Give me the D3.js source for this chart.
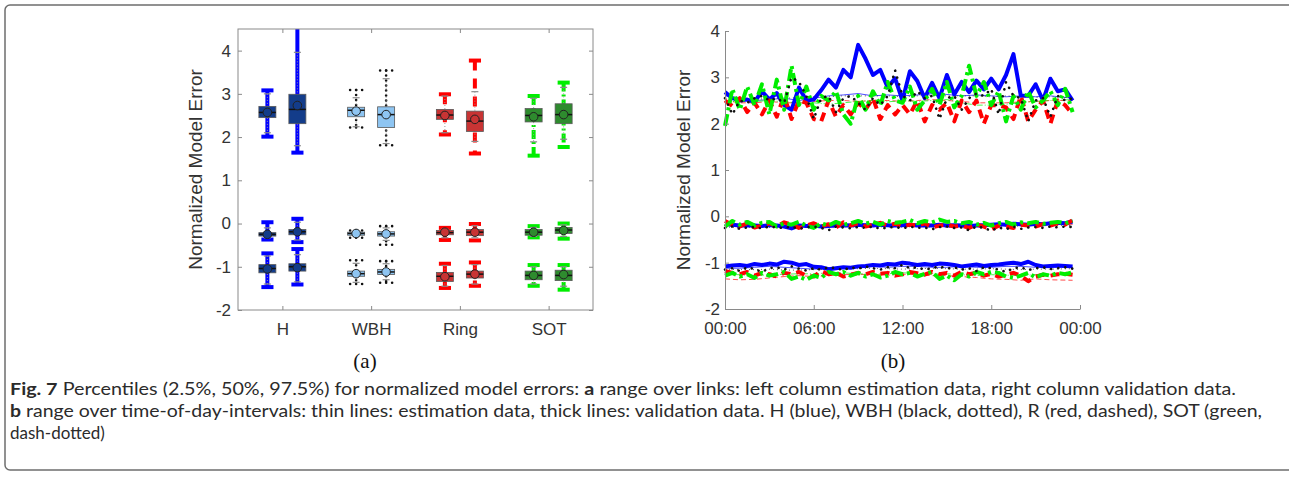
<!DOCTYPE html>
<html>
<head>
<meta charset="utf-8">
<title>Normalized model errors</title>
<script src="https://cdn.jsdelivr.net/npm/d3@7"></script>
<style>
  body { margin: 0; background: #fff; }
  svg { font-family: 'Liberation Sans', Arial, sans-serif; }
</style>
</head>
<body>
<svg width="1289" height="478" id="mainsvg"></svg>
<script>
// ---------- data (a): percentile boxes over links ----------
const methods = ['H', 'WBH', 'Ring', 'SOT'];
// each row: [min, whiskerLow, q1, median, q3, whiskerHigh, max, mean]
// rows: est 97.5, val 97.5, est 50, val 50, est 2.5, val 2.5
const boxH = [
  [2.01, 2.10, 2.45, 2.57, 2.71, 3.00, 3.08, 2.57],
  [1.64, 1.80, 2.31, 2.64, 2.99, 3.96, 4.90, 2.73],
  [-0.37, -0.33, -0.29, -0.25, -0.21, -0.10, 0.03, -0.25],
  [-0.43, -0.38, -0.26, -0.19, -0.14, 0.03, 0.11, -0.19],
  [-1.47, -1.40, -1.14, -1.04, -0.95, -0.75, -0.69, -1.05],
  [-1.41, -1.35, -1.10, -1.00, -0.93, -0.72, -0.59, -1.02]
];
const boxWBH = [
  [2.22, 2.24, 2.47, 2.62, 2.69, 2.91, 3.09, 2.60],
  [1.81, 1.85, 2.22, 2.52, 2.70, 3.35, 3.54, 2.52],
  [-0.33, -0.30, -0.27, -0.23, -0.20, -0.18, -0.16, -0.23],
  [-0.49, -0.39, -0.29, -0.24, -0.19, -0.10, -0.06, -0.24],
  [-1.40, -1.36, -1.22, -1.16, -1.10, -0.92, -0.85, -1.16],
  [-1.37, -1.30, -1.18, -1.12, -1.06, -0.93, -0.87, -1.12]
];
const boxRing = [
  [2.06, 2.10, 2.41, 2.51, 2.64, 2.95, 2.99, 2.50],
  [1.62, 1.90, 2.13, 2.37, 2.60, 3.05, 3.77, 2.41],
  [-0.38, -0.33, -0.26, -0.21, -0.16, -0.13, -0.10, -0.20],
  [-0.39, -0.33, -0.28, -0.20, -0.14, -0.05, -0.01, -0.20],
  [-1.49, -1.45, -1.34, -1.22, -1.13, -0.97, -0.93, -1.23],
  [-1.44, -1.40, -1.26, -1.17, -1.10, -0.95, -0.90, -1.17]
];
const boxSOT = [
  [1.57, 1.89, 2.35, 2.50, 2.66, 2.90, 2.95, 2.47],
  [1.77, 1.95, 2.31, 2.52, 2.77, 3.15, 3.26, 2.52],
  [-0.32, -0.30, -0.27, -0.20, -0.14, -0.09, -0.06, -0.20],
  [-0.35, -0.30, -0.23, -0.15, -0.09, -0.03, 0.00, -0.16],
  [-1.44, -1.40, -1.30, -1.20, -1.10, -1.00, -0.96, -1.20],
  [-1.53, -1.45, -1.32, -1.20, -1.08, -1.00, -0.96, -1.18]
];
const yTicksA = [-2, -1, 0, 1, 2, 3, 4];

// ---------- data (b): percentiles over time of day ----------
const halfHours = d3.range(0, 24, 0.5);              // validation (thick) time grid
const hoursThin = [0, 1, 2, 3, 4, 5, 6, 7, 8, 9, 10, 11, 12, 13, 14, 15, 16, 17, 18, 19, 20, 21, 22, 23.5];
const timeTicks = [0, 6, 12, 18, 24];
const timeLabels = ['00:00', '06:00', '12:00', '18:00', '00:00'];
const yTicksB = [-2, -1, 0, 1, 2, 3, 4];

// thick lines (validation)
const hTop = [2.68,2.55,2.5,2.52,2.47,2.7,2.52,2.66,2.4,2.3,2.78,2.5,2.52,2.72,2.95,2.78,3.16,3.0,3.7,3.4,3.05,3.16,2.78,2.98,2.5,3.13,2.92,2.55,2.88,2.55,3.05,2.63,2.9,2.68,2.93,2.74,2.97,2.74,3.05,3.5,2.6,2.6,2.85,2.5,2.97,2.7,2.74,2.5];
const wbhTop = [2.55,2.2,2.5,2.45,2.55,2.6,2.5,2.55,2.45,3.0,2.9,2.6,2.1,2.55,2.6,2.25,2.55,2.6,2.45,2.3,2.55,2.4,2.6,3.15,2.6,2.5,2.7,2.55,2.6,2.1,2.55,2.6,2.3,2.55,2.65,2.6,2.75,2.2,2.9,2.6,2.55,2.05,2.5,2.55,2.15,2.6,2.5,2.55];
const rTop = [2.5,2.38,2.55,2.25,2.45,2.2,2.5,2.15,2.6,2.1,2.5,2.45,2.1,2.05,2.5,2.15,2.4,2.2,2.45,2.3,2.55,2.1,2.4,2.2,2.4,2.2,2.5,2.05,2.4,2.3,2.45,2.05,2.5,2.25,2.5,2.0,2.4,2.4,2.35,2.1,2.6,2.05,2.3,2.5,2.0,2.5,2.4,2.2];
const sotTop = [1.95,2.75,2.3,2.8,2.4,2.85,2.2,2.95,2.3,3.25,2.4,2.8,2.3,2.6,2.5,2.7,2.2,2.0,2.6,2.3,2.7,2.4,2.9,2.5,2.45,2.8,2.3,2.5,2.75,2.4,2.9,2.35,2.6,3.25,2.6,2.9,2.4,2.7,2.05,2.6,2.3,2.7,2.35,2.5,2.7,2.4,2.75,2.25];

const hMid = [-0.16,-0.18,-0.2,-0.19,-0.2,-0.21,-0.19,-0.2,-0.22,-0.26,-0.2,-0.21,-0.2,-0.22,-0.21,-0.2,-0.19,-0.2,-0.18,-0.19,-0.2,-0.18,-0.19,-0.2,-0.19,-0.18,-0.2,-0.19,-0.2,-0.18,-0.2,-0.19,-0.2,-0.21,-0.2,-0.19,-0.18,-0.17,-0.18,-0.16,-0.17,-0.18,-0.16,-0.17,-0.15,-0.14,-0.15,-0.11];
const wbhMid = [-0.25,-0.22,-0.27,-0.24,-0.23,-0.26,-0.22,-0.24,-0.25,-0.22,-0.27,-0.24,-0.22,-0.25,-0.3,-0.22,-0.24,-0.26,-0.23,-0.25,-0.22,-0.27,-0.24,-0.23,-0.26,-0.22,-0.25,-0.24,-0.28,-0.23,-0.22,-0.25,-0.24,-0.3,-0.22,-0.25,-0.31,-0.24,-0.28,-0.22,-0.27,-0.24,-0.23,-0.25,-0.22,-0.24,-0.22,-0.23];
const rMid = [-0.1,-0.18,-0.22,-0.15,-0.24,-0.2,-0.15,-0.22,-0.13,-0.18,-0.25,-0.2,-0.15,-0.22,-0.17,-0.24,-0.13,-0.2,-0.15,-0.22,-0.18,-0.14,-0.2,-0.16,-0.22,-0.18,-0.2,-0.15,-0.24,-0.2,-0.18,-0.22,-0.2,-0.25,-0.18,-0.22,-0.28,-0.2,-0.22,-0.25,-0.18,-0.2,-0.22,-0.17,-0.2,-0.15,-0.18,-0.08];
const sotMid = [-0.22,-0.1,-0.18,-0.12,-0.2,-0.14,-0.12,-0.22,-0.15,-0.18,-0.12,-0.2,-0.25,-0.15,-0.2,-0.12,-0.18,-0.15,-0.1,-0.16,-0.12,-0.18,-0.1,-0.14,-0.12,-0.08,-0.15,-0.1,-0.13,-0.07,-0.12,-0.1,-0.15,-0.12,-0.18,-0.14,-0.2,-0.15,-0.12,-0.18,-0.13,-0.15,-0.12,-0.16,-0.14,-0.12,-0.15,-0.1];

const hBot = [-1.08,-1.06,-1.05,-1.07,-1.03,-1.05,-1.02,-1.04,-0.98,-1.0,-1.05,-1.03,-1.09,-1.1,-1.14,-1.12,-1.1,-1.11,-1.08,-1.07,-1.05,-1.06,-1.03,-1.04,-1.0,-1.02,-1.05,-1.03,-1.05,-1.02,-1.03,-1.05,-1.08,-1.06,-1.04,-1.07,-1.05,-1.04,-1.02,-1.0,-1.03,-0.98,-1.05,-1.08,-1.07,-1.06,-1.07,-1.08];
const wbhBot = [-1.15,-1.12,-1.18,-1.1,-1.14,-1.2,-1.12,-1.1,-1.15,-1.08,-1.13,-1.17,-1.12,-1.15,-1.1,-1.12,-1.16,-1.1,-1.13,-1.08,-1.12,-1.15,-1.1,-1.12,-1.05,-1.12,-1.1,-1.15,-1.12,-1.08,-1.13,-1.1,-1.15,-1.12,-1.18,-1.1,-1.12,-1.15,-1.2,-1.12,-1.1,-1.16,-1.12,-1.1,-1.14,-1.12,-1.1,-1.13];
const rBot = [-1.18,-1.22,-1.25,-1.2,-1.28,-1.22,-1.25,-1.3,-1.22,-1.25,-1.2,-1.28,-1.3,-1.18,-1.25,-1.22,-1.3,-1.26,-1.22,-1.25,-1.2,-1.24,-1.22,-1.28,-1.25,-1.2,-1.23,-1.26,-1.2,-1.25,-1.22,-1.28,-1.2,-1.25,-1.22,-1.28,-1.24,-1.3,-1.26,-1.22,-1.28,-1.4,-1.3,-1.26,-1.28,-1.25,-1.24,-1.26];
const sotBot = [-1.28,-1.22,-1.3,-1.25,-1.33,-1.22,-1.28,-1.25,-1.2,-1.35,-1.3,-1.37,-1.28,-1.33,-1.2,-1.25,-1.2,-1.28,-1.22,-1.3,-1.25,-1.32,-1.28,-1.2,-1.25,-1.22,-1.3,-1.24,-1.2,-1.35,-1.28,-1.38,-1.25,-1.3,-1.2,-1.25,-1.2,-1.22,-1.3,-1.33,-1.28,-1.22,-1.32,-1.25,-1.28,-1.22,-1.25,-1.21];

// thin lines (estimation)
const hTopThin = [2.6,2.55,2.5,2.52,2.55,2.5,2.55,2.6,2.62,2.65,2.6,2.62,2.6,2.62,2.65,2.63,2.6,2.62,2.6,2.58,2.6,2.58,2.6,2.55];
const wbhTopThin = [2.55,2.53,2.52,2.55,2.55,2.56,2.58,2.58,2.6,2.6,2.6,2.6,2.58,2.6,2.62,2.6,2.6,2.6,2.58,2.6,2.58,2.57,2.58,2.56];
const rTopThin = [2.5,2.45,2.45,2.48,2.45,2.45,2.48,2.5,2.5,2.48,2.5,2.5,2.48,2.5,2.52,2.5,2.48,2.45,2.45,2.45,2.47,2.48,2.5,2.5];
const sotTopThin = [2.45,2.5,2.48,2.5,2.47,2.45,2.45,2.42,2.45,2.48,2.5,2.47,2.5,2.48,2.5,2.52,2.45,2.4,2.4,2.42,2.45,2.48,2.5,2.52];
const hMidThin = [-0.2,-0.21,-0.2,-0.2,-0.22,-0.21,-0.2,-0.2,-0.19,-0.2,-0.19,-0.2,-0.2,-0.19,-0.2,-0.2,-0.19,-0.2,-0.19,-0.18,-0.18,-0.17,-0.17,-0.16];
const wbhMidThin = [-0.23,-0.24,-0.23,-0.24,-0.25,-0.24,-0.23,-0.23,-0.22,-0.23,-0.22,-0.23,-0.23,-0.22,-0.23,-0.23,-0.22,-0.22,-0.22,-0.21,-0.21,-0.2,-0.2,-0.2];
const rMidThin = [-0.18,-0.2,-0.21,-0.2,-0.21,-0.2,-0.2,-0.19,-0.19,-0.2,-0.19,-0.2,-0.2,-0.2,-0.21,-0.21,-0.2,-0.2,-0.2,-0.19,-0.2,-0.19,-0.18,-0.17];
const sotMidThin = [-0.17,-0.18,-0.19,-0.18,-0.2,-0.19,-0.18,-0.18,-0.17,-0.17,-0.16,-0.17,-0.17,-0.16,-0.17,-0.18,-0.17,-0.17,-0.18,-0.17,-0.17,-0.16,-0.16,-0.15];
const hBotThin = [-1.12,-1.12,-1.1,-1.08,-1.1,-1.12,-1.14,-1.12,-1.1,-1.08,-1.08,-1.1,-1.08,-1.08,-1.1,-1.1,-1.08,-1.1,-1.1,-1.08,-1.08,-1.1,-1.1,-1.1];
const wbhBotThin = [-1.14,-1.15,-1.15,-1.14,-1.16,-1.16,-1.15,-1.14,-1.13,-1.13,-1.12,-1.13,-1.14,-1.13,-1.12,-1.13,-1.14,-1.14,-1.13,-1.14,-1.15,-1.14,-1.14,-1.13];
const rBotThin = [-1.35,-1.37,-1.36,-1.33,-1.3,-1.28,-1.3,-1.28,-1.26,-1.25,-1.26,-1.27,-1.25,-1.26,-1.28,-1.28,-1.3,-1.32,-1.35,-1.36,-1.38,-1.35,-1.37,-1.38];
const sotBotThin = [-1.25,-1.26,-1.28,-1.26,-1.25,-1.24,-1.24,-1.22,-1.22,-1.24,-1.25,-1.24,-1.22,-1.23,-1.25,-1.24,-1.26,-1.28,-1.26,-1.27,-1.28,-1.26,-1.25,-1.25];

// ---------- styles ----------
const boxData = {H: boxH, WBH: boxWBH, Ring: boxRing, SOT: boxSOT};
const boxStyle = {
  H:    {fill: '#133c8a', line: '#0000ff', width: 4, dash: null, cap: 'butt'},
  WBH:  {fill: '#8ec5f2', line: '#111111', width: 2.6, dash: '0,5', cap: 'round'},
  Ring: {fill: '#c83434', line: '#ff0000', width: 4, dash: '10,8', cap: 'butt'},
  SOT:  {fill: '#2e8b2e', line: '#00ee00', width: 4, dash: '9,3,2,3', cap: 'butt'}
};
const lineStyle = {
  H:   {color: '#0000ff', thick: null, thin: null, cap: 'butt'},
  WBH: {color: '#111111', thick: '0.1,7', thin: '1,3', cap: 'round'},
  R:   {color: '#ff0000', thick: '9,6', thin: '5,3', cap: 'butt'},
  SOT: {color: '#00ee00', thick: '12,4,3,4', thin: '6,2,1,2', cap: 'butt'}
};
const axisGray = '#8a8a8a';
const labelGray = '#333333';
const tickFont = "'Liberation Sans', Arial, sans-serif";
const serifFont = "'Liberation Serif', 'Times New Roman', serif";
const capFont = "Lato, 'Open Sans', sans-serif";
const fmtTick = d => String(d);

const svg = d3.select('#mainsvg');

// outer frame
svg.append('path')
  .attr('d', 'M1295,5 H10 A5,5 0 0 0 5,10 V465 A5,5 0 0 0 10,470 H1295')
  .attr('fill', 'none').attr('stroke', '#6e6e6e').attr('stroke-width', 1.5);

// ================= panel (a) =================
const A = {left: 238, right: 593, top: 29, bottom: 310};
const xA = d3.scalePoint().domain(methods).range([A.left, A.right]).padding(0.5);
const yA = d3.scaleLinear().domain([-2, 4.5]).range([A.bottom, A.top]);
const colOffset = 15, boxW = 17, capW = 12, grayCapW = 7;

svg.append('clipPath').attr('id', 'clipA').append('rect')
  .attr('x', A.left).attr('y', A.top).attr('width', A.right - A.left).attr('height', A.bottom - A.top);

const gBoxes = svg.append('g').attr('clip-path', 'url(#clipA)');
methods.forEach(m => {
  const st = boxStyle[m];
  boxData[m].forEach((r, k) => {
    const [mn, lo, q1, md, q3, hi, mx, mean] = r;
    const cx = xA(m) + (k % 2 === 0 ? -colOffset : colOffset);
    const g = gBoxes.append('g');
    // full range (thick, styled)
    g.append('line')
      .attr('x1', cx).attr('x2', cx).attr('y1', yA(mx)).attr('y2', yA(mn))
      .attr('stroke', st.line).attr('stroke-width', st.width)
      .attr('stroke-dasharray', st.dash).attr('stroke-linecap', st.cap);
    [mn, mx].forEach(v => {
      g.append('line')
        .attr('x1', cx - capW / 2).attr('x2', cx + capW / 2 + 0.1).attr('y1', yA(v)).attr('y2', yA(v))
        .attr('stroke', st.line).attr('stroke-width', st.width)
        .attr('stroke-dasharray', m === 'WBH' ? '0,6' : null)
        .attr('stroke-linecap', st.cap);
    });
    // inner whisker
    g.append('line')
      .attr('x1', cx).attr('x2', cx).attr('y1', yA(hi)).attr('y2', yA(lo))
      .attr('stroke', '#9a9a9a').attr('stroke-width', 1).attr('stroke-dasharray', '1,2');
    [lo, hi].forEach(v => {
      g.append('line')
        .attr('x1', cx - grayCapW / 2).attr('x2', cx + grayCapW / 2).attr('y1', yA(v)).attr('y2', yA(v))
        .attr('stroke', '#8a8a8a').attr('stroke-width', 1.2);
    });
    // box
    g.append('rect')
      .attr('x', cx - boxW / 2).attr('width', boxW)
      .attr('y', yA(q3)).attr('height', yA(q1) - yA(q3))
      .attr('fill', st.fill).attr('stroke', '#5a5a5a').attr('stroke-width', 0.8);
    g.append('line')
      .attr('x1', cx - boxW / 2).attr('x2', cx + boxW / 2).attr('y1', yA(md)).attr('y2', yA(md))
      .attr('stroke', '#111').attr('stroke-width', 1.5);
    g.append('circle')
      .attr('cx', cx).attr('cy', yA(mean)).attr('r', 4.3)
      .attr('fill', st.fill).attr('stroke', '#222').attr('stroke-width', 1);
  });
});

// frame + axes (a)
svg.append('rect')
  .attr('x', A.left).attr('y', A.top).attr('width', A.right - A.left).attr('height', A.bottom - A.top)
  .attr('fill', 'none').attr('stroke', axisGray).attr('stroke-width', 1);

const axA = [
  svg.append('g').attr('transform', `translate(${A.left},0)`)
    .call(d3.axisLeft(yA).tickValues(yTicksA).tickFormat(fmtTick).tickSize(-4).tickPadding(7).tickSizeOuter(0)),
  svg.append('g').attr('transform', `translate(${A.right},0)`)
    .call(d3.axisRight(yA).tickValues(yTicksA).tickSize(-4).tickFormat('').tickSizeOuter(0)),
  svg.append('g').attr('transform', `translate(0,${A.bottom})`)
    .call(d3.axisBottom(xA).tickSize(-4).tickPadding(13).tickSizeOuter(0)),
  svg.append('g').attr('transform', `translate(0,${A.top})`)
    .call(d3.axisTop(xA).tickSize(-4).tickFormat('').tickSizeOuter(0))
];
axA.forEach(g => {
  g.select('.domain').remove();
  g.selectAll('line').attr('stroke', axisGray);
  g.selectAll('text').attr('fill', labelGray).style('font-size', '17px').style('font-family', tickFont);
});

svg.append('text')
  .attr('transform', `translate(202,${(A.top + A.bottom) / 2}) rotate(-90)`)
  .attr('text-anchor', 'middle').style('font-size', '19px').attr('fill', labelGray)
  .text('Normalized Model Error');

svg.append('text')
  .attr('x', 365).attr('y', 368).attr('text-anchor', 'middle')
  .style('font-family', serifFont).style('font-size', '21px').attr('fill', '#111')
  .text('(a)');

// ================= panel (b) =================
const B = {left: 725, right: 1080, top: 31, bottom: 309};
const xB = d3.scaleLinear().domain([0, 24]).range([B.left, B.right]);
const yB = d3.scaleLinear().domain([-2, 4]).range([B.bottom, B.top]);

const thinSeries = [
  ['H', hTopThin], ['WBH', wbhTopThin], ['R', rTopThin], ['SOT', sotTopThin],
  ['H', hMidThin], ['WBH', wbhMidThin], ['R', rMidThin], ['SOT', sotMidThin],
  ['H', hBotThin], ['WBH', wbhBotThin], ['R', rBotThin], ['SOT', sotBotThin]
];
const thickSeries = [
  ['H', hTop], ['H', hMid], ['H', hBot],
  ['R', rTop], ['R', rMid], ['R', rBot],
  ['SOT', sotTop], ['SOT', sotMid], ['SOT', sotBot],
  ['WBH', wbhTop], ['WBH', wbhMid], ['WBH', wbhBot]
];

const toPoints = (times, vals) => vals.slice(0, times.length).map((v, i) => [times[i], v]);
const lineB = d3.line().x(d => xB(d[0])).y(d => yB(d[1]));

const gLines = svg.append('g');
thinSeries.forEach(([m, vals]) => {
  const st = lineStyle[m];
  gLines.append('path')
    .attr('d', lineB(toPoints(hoursThin, vals)))
    .attr('fill', 'none').attr('stroke', st.color).attr('stroke-width', 1)
    .attr('stroke-dasharray', st.thin).attr('opacity', 0.7);
});
thickSeries.forEach(([m, vals]) => {
  const st = lineStyle[m];
  gLines.append('path')
    .attr('d', lineB(toPoints(halfHours, vals)))
    .attr('fill', 'none').attr('stroke', st.color)
    .attr('stroke-width', m === 'WBH' ? 2.6 : 4)
    .attr('stroke-dasharray', st.thick).attr('stroke-linecap', st.cap)
    .attr('stroke-linejoin', 'round');
});

const axB = [
  svg.append('g').attr('transform', `translate(${B.left},0)`)
    .call(d3.axisLeft(yB).tickValues(yTicksB).tickFormat(fmtTick).tickSize(-4).tickPadding(5).tickSizeOuter(0)),
  svg.append('g').attr('transform', `translate(0,${B.bottom})`)
    .call(d3.axisBottom(xB).tickValues(timeTicks).tickFormat((d, i) => timeLabels[i])
      .tickSize(-4).tickPadding(13).tickSizeOuter(0))
];
axB.forEach(g => {
  g.select('.domain').attr('stroke', axisGray);
  g.selectAll('line').attr('stroke', axisGray);
  g.selectAll('text').attr('fill', labelGray).style('font-size', '17px').style('font-family', tickFont);
});

svg.append('text')
  .attr('transform', `translate(690,${(B.top + B.bottom) / 2}) rotate(-90)`)
  .attr('text-anchor', 'middle').style('font-size', '19px').attr('fill', labelGray)
  .text('Normalized Model Error');

svg.append('text')
  .attr('x', 893).attr('y', 368).attr('text-anchor', 'middle')
  .style('font-family', serifFont).style('font-size', '21px').attr('fill', '#111')
  .text('(b)');

// ================= caption =================
const cap = svg.append('g')
  .style('font-size', '17px').style('font-family', capFont).attr('fill', '#2b2b2b').style('white-space', 'pre');

const l1 = cap.append('text').attr('x', 10).attr('y', 395)
  .attr('textLength', 1226).attr('lengthAdjust', 'spacingAndGlyphs');
l1.append('tspan').attr('font-weight', 'bold').text('Fig. 7');
l1.append('tspan').text(' Percentiles (2.5%, 50%, 97.5%) for normalized model errors: ');
l1.append('tspan').attr('font-weight', 'bold').text('a');
l1.append('tspan').text(' range over links: left column estimation data, right column validation data.');

const l2 = cap.append('text').attr('x', 10).attr('y', 417)
  .attr('textLength', 1252).attr('lengthAdjust', 'spacingAndGlyphs');
l2.append('tspan').attr('font-weight', 'bold').text('b');
l2.append('tspan').text(' range over time-of-day-intervals: thin lines: estimation data, thick lines: validation data. H (blue), WBH (black, dotted), R (red, dashed), SOT (green,');

cap.append('text').attr('x', 10).attr('y', 439).text('dash-dotted)');
</script>
</body>
</html>
